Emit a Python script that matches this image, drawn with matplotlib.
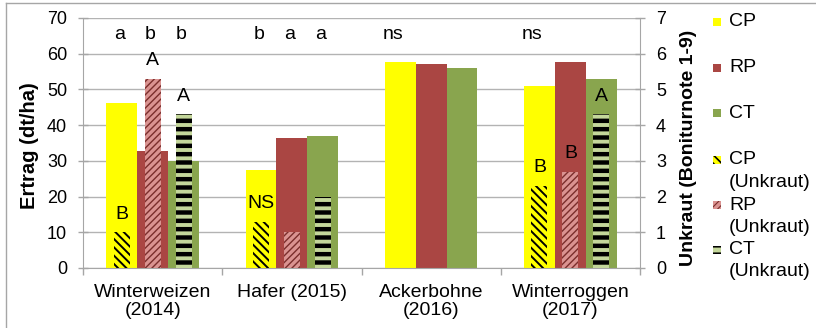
import matplotlib.pyplot as plt
import numpy as np
from matplotlib.patches import Rectangle
from matplotlib.lines import Line2D

plt.rcParams['font.family'] = ['Liberation Sans', 'DejaVu Sans']

# Ertrag in dt/ha, Unkraut als Boniturnote (1-9)
categories = ['Winterweizen\n(2014)', 'Hafer (2015)', 'Ackerbohne\n(2016)', 'Winterroggen\n(2017)']
ertrag_cp = [46.2, 27.4, 57.7, 51.0]
ertrag_rp = [32.9, 36.3, 57.1, 57.7]
ertrag_ct = [29.9, 37.0, 56.1, 52.8]
unkraut_cp = [1.0, 1.3, np.nan, 2.3]
unkraut_rp = [5.3, 1.0, np.nan, 2.7]
unkraut_ct = [4.3, 2.0, np.nan, 4.3]
sig_ertrag = [['a', 'b', 'b'], ['b', 'a', 'a'], ['ns', '', ''], ['ns', '', '']]
sig_unkraut = [['B', 'A', 'A'], ['NS', '', ''], ['', '', ''], ['B', 'B', 'A']]

yellow = '#FFFF00'
red = '#AA4643'
green = '#89A54E'
grey = '#A6A6A6'

W, H = 816, 328
fig = plt.figure(figsize=(W / 100, H / 100), dpi=100)
ax = fig.add_axes([83 / W, 60 / H, (640 - 83) / W, 250 / H])
ax2 = ax.twinx()

x = np.arange(len(categories))
bw = 0.222
hw = 0.115
offs = [-bw, 0, bw]

for off, vals, col in zip(offs, [ertrag_cp, ertrag_rp, ertrag_ct], [yellow, red, green]):
    ax.bar(x + off, vals, bw, color=col, linewidth=0, zorder=2)

hatch_styles = [
    ('\\\\\\\\', yellow, 'black', 1.4),
    ('/////', '#DA9391', '#7A2E2C', 1.0),
    ('--', '#C4D79B', 'black', 3.2),
]
for off, vals, (h, fc, ec, hlw) in zip(offs, [unkraut_cp, unkraut_rp, unkraut_ct], hatch_styles):
    bars = ax2.bar(x + off, vals, hw, facecolor=fc, edgecolor=ec, hatch=h, linewidth=0, zorder=3)
    for p in bars:
        if hasattr(p, 'set_hatch_linewidth'):
            p.set_hatch_linewidth(hlw)

# Signifikanzbuchstaben
for i in range(len(categories)):
    for j, off in enumerate(offs):
        s = sig_ertrag[i][j]
        if s:
            dx = -0.05 if s == 'ns' else -0.015
            ax.text(x[i] + off + dx, 65.3, s, ha='center', va='center', fontsize=14, zorder=5)
    uvals = [unkraut_cp[i], unkraut_rp[i], unkraut_ct[i]]
    for j, off in enumerate(offs):
        s = sig_unkraut[i][j]
        if s:
            ax2.text(x[i] + off, uvals[j] + 0.5, s, ha='center', va='center', fontsize=14, zorder=5)

# Achsen
ax.set_xlim(-0.5, len(categories) - 0.5)
ax.set_ylim(0, 70)
ax2.set_ylim(0, 7)
ax.set_yticks(np.arange(0, 71, 10))
ax2.set_yticks(np.arange(0, 8, 1))
ax.set_xticks(np.arange(-0.5, len(categories), 1))
ax.set_xticklabels([])
ax.set_xticks(x, minor=True)
ax.set_xticklabels(categories, minor=True, fontsize=14, linespacing=1.05)
ax.tick_params(axis='x', which='major', direction='out', length=5, color=grey, width=1)
ax.tick_params(axis='x', which='minor', length=0, pad=11.5)
ax.tick_params(axis='y', direction='inout', length=7, color=grey, width=1, labelsize=13, pad=8)
ax2.tick_params(axis='y', direction='inout', length=7, color=grey, width=1, labelsize=13, pad=8)

ax.yaxis.grid(True, color='#B3B3B3', linewidth=1.0)
ax.set_axisbelow(True)
for side in ['left', 'bottom', 'right']:
    ax.spines[side].set_color(grey)
ax.spines['top'].set_visible(False)
for side in ax2.spines:
    ax2.spines[side].set_visible(False)

ax.set_ylabel('Ertrag (dt/ha)', fontsize=14.5, fontweight='bold')
ax.yaxis.set_label_coords(-0.079, 0.49)
ax2.set_ylabel('Unkraut (Boniturnote 1-9)', fontsize=14, fontweight='bold')
ax2.yaxis.set_label_coords(1.071, 0.48)

# Legende
entries = [
    ('CP', yellow, None, None, 0),
    ('RP', red, None, None, 0),
    ('CT', green, None, None, 0),
    ('CP\n(Unkraut)', yellow, '\\\\\\\\', 'black', 1.2),
    ('RP\n(Unkraut)', '#DA9391', '/////', '#7A2E2C', 0.8),
    ('CT\n(Unkraut)', '#C4D79B', '--', 'black', 2.5),
]
ys = [22, 68, 113, 160, 205, 250]
for (lab, fc, h, ec, hlw), yp in zip(entries, ys):
    r = Rectangle((713 / W, 1 - (yp + 4) / H), 8 / W, 8 / H, transform=fig.transFigure,
                  facecolor=fc, edgecolor=ec if ec else fc, hatch=h, linewidth=0)
    if h and hasattr(r, 'set_hatch_linewidth'):
        r.set_hatch_linewidth(hlw)
    fig.add_artist(r)
    lines = lab.split('\n')
    for k, t in enumerate(lines):
        fig.text(729 / W, 1 - (yp + 22 * k) / H, t, ha='left', va='center', fontsize=14)

# Rahmen
fig.add_artist(Line2D([5.5 / W, 5.5 / W], [0, 1 - 2.5 / H], color=grey, linewidth=1, transform=fig.transFigure))
fig.add_artist(Line2D([5.5 / W, 1], [1 - 2.5 / H, 1 - 2.5 / H], color=grey, linewidth=1, transform=fig.transFigure))

fig.savefig('out.png', dpi=100)
